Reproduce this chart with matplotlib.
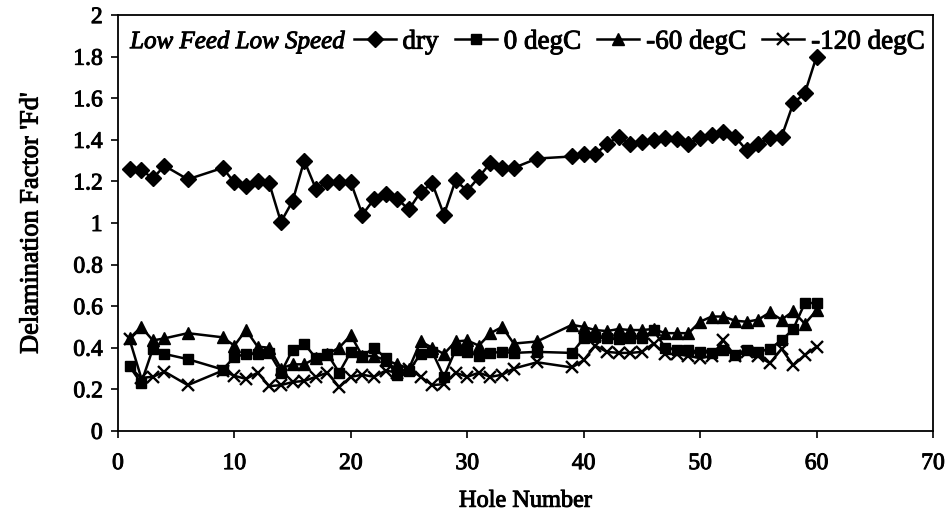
import matplotlib.pyplot as plt
import matplotlib.patheffects as pe

plt.rcParams['font.family'] = ['Liberation Serif', 'DejaVu Serif']

# Hole numbers drilled
holes = [1, 2, 3, 4, 6, 9, 10, 11, 12, 13, 14, 15, 16, 17, 18, 19, 20, 21, 22,
         23, 24, 25, 26, 27, 28, 29, 30, 31, 32, 33, 34, 36, 39, 40, 41, 42,
         43, 44, 45, 46, 47, 48, 49, 50, 51, 52, 53, 54, 55, 56, 57, 58, 59, 60]

# Delamination factor Fd for each cooling condition
fd_dry = [1.26, 1.255, 1.215, 1.275, 1.21, 1.265, 1.195, 1.18, 1.2, 1.19,
          1.005, 1.105, 1.30, 1.165, 1.195, 1.195, 1.195, 1.04, 1.115, 1.14,
          1.115, 1.065, 1.15, 1.19, 1.04, 1.205, 1.155, 1.22, 1.29, 1.265,
          1.265, 1.31, 1.32, 1.33, 1.33, 1.38, 1.415, 1.38, 1.39, 1.40, 1.41,
          1.405, 1.38, 1.41, 1.425, 1.44, 1.415, 1.35, 1.38, 1.41, 1.415,
          1.575, 1.625, 1.80]
fd_0 = [0.31, 0.23, 0.395, 0.37, 0.345, 0.295, 0.355, 0.37, 0.37, 0.375,
        0.28, 0.39, 0.42, 0.35, 0.37, 0.28, 0.38, 0.36, 0.40, 0.35, 0.27,
        0.29, 0.37, 0.38, 0.26, 0.39, 0.38, 0.36, 0.375, 0.38, 0.375, 0.38,
        0.375, 0.445, 0.45, 0.445, 0.44, 0.445, 0.445, 0.485, 0.40, 0.39,
        0.39, 0.38, 0.375, 0.39, 0.365, 0.39, 0.38, 0.395, 0.435, 0.49,
        0.615, 0.615]
fd_m60 = [0.445, 0.50, 0.435, 0.445, 0.47, 0.45, 0.41, 0.485, 0.405, 0.40,
          0.30, 0.32, 0.32, 0.35, 0.37, 0.40, 0.46, 0.36, 0.36, 0.34, 0.32,
          0.30, 0.43, 0.40, 0.37, 0.43, 0.435, 0.41, 0.47, 0.50, 0.42, 0.43,
          0.51, 0.50, 0.485, 0.48, 0.49, 0.485, 0.485, 0.49, 0.47, 0.47,
          0.47, 0.525, 0.55, 0.55, 0.53, 0.525, 0.535, 0.57, 0.535, 0.575,
          0.515, 0.58]
fd_m120 = [0.44, 0.255, 0.26, 0.285, 0.22, 0.29, 0.265, 0.25, 0.28, 0.215,
           0.22, 0.235, 0.24, 0.26, 0.28, 0.21, 0.26, 0.27, 0.26, 0.29, 0.28,
           0.30, 0.26, 0.22, 0.225, 0.28, 0.26, 0.28, 0.26, 0.27, 0.30, 0.33,
           0.305, 0.34, 0.41, 0.38, 0.375, 0.375, 0.38, 0.42, 0.37, 0.37,
           0.36, 0.35, 0.36, 0.435, 0.36, 0.38, 0.36, 0.325, 0.395, 0.315,
           0.365, 0.405]

yticks = [0, 0.2, 0.4, 0.6, 0.8, 1, 1.2, 1.4, 1.6, 1.8, 2]
ytick_labels = ['0', '0.2', '0.4', '0.6', '0.8', '1', '1.2', '1.4', '1.6',
                '1.8', '2']

# slightly heavier text strokes
heavy = [pe.withStroke(linewidth=0.7, foreground='black')]

fig = plt.figure(figsize=(9.51, 5.21), dpi=100)
ax = fig.add_axes([0.124, 0.173, 0.857, 0.798])

lw = 1.8
ax.plot(holes, fd_dry, '-D', color='black', lw=lw, ms=8, label='dry')
ax.plot(holes, fd_0, '-s', color='black', lw=lw, ms=7, label='0 degC')
ax.plot(holes, fd_m60, '-^', color='black', lw=lw, ms=8, label='-60 degC')
ax.plot(holes, fd_m120, '-x', color='black', lw=lw, ms=9, mew=1.7,
        label='-120 degC')

ax.set_xlim(0, 70)
ax.set_ylim(0, 2)
ax.set_xticks(range(0, 71, 10))
ax.set_yticks(yticks)
ax.set_yticklabels(ytick_labels)
ax.tick_params(direction='out', length=5, width=1.2, colors='black')
ax.tick_params(axis='x', labelsize=17, pad=11)
ax.tick_params(axis='y', labelsize=17, pad=6)
for s in ax.spines.values():
    s.set_linewidth(1.3)

ax.set_xlabel('Hole Number', fontsize=17.5, labelpad=12)
ax.set_ylabel("Delamination Factor 'Fd'", fontsize=19, labelpad=22)

ax.text(0.015, 0.935, 'Low Feed Low Speed', transform=ax.transAxes,
        fontsize=18, style='italic', va='center', ha='left',
        path_effects=heavy)
leg = ax.legend(loc='center right', bbox_to_anchor=(1.0, 0.935), ncol=4,
                frameon=False, fontsize=19.5, handlelength=1.55,
                handletextpad=0.25, columnspacing=0.6, borderaxespad=0.2,
                borderpad=0.1)
for t in leg.get_texts():
    t.set_path_effects(heavy)

for t in ax.get_xticklabels() + ax.get_yticklabels():
    t.set_path_effects(heavy)
ax.xaxis.label.set_path_effects(heavy)
ax.yaxis.label.set_path_effects(heavy)

fig.savefig('out.png', dpi=100)
